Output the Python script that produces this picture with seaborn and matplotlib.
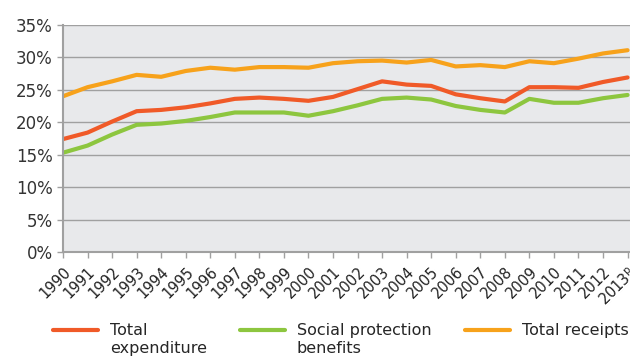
import seaborn as sns
import matplotlib.pyplot as plt
import numpy as np
import pandas as pd
from matplotlib.legend_handler import HandlerLine2D

# values, % of GDP
years = list(range(1990, 2014))
year_labels = [str(y) for y in years[:-1]] + ["2013$^{\\mathrm{p}}$"]

expenditure = [17.4, 18.4, 20.1, 21.7, 21.9, 22.3, 22.9, 23.6, 23.8, 23.6, 23.3, 23.9,
               25.1, 26.3, 25.8, 25.6, 24.3, 23.7, 23.2, 25.4, 25.4, 25.3, 26.2, 26.9]
social = [15.3, 16.4, 18.1, 19.6, 19.8, 20.2, 20.8, 21.5, 21.5, 21.5, 21.0, 21.7,
          22.6, 23.6, 23.8, 23.5, 22.5, 21.9, 21.5, 23.6, 23.0, 23.0, 23.7, 24.2]
receipts = [24.0, 25.4, 26.3, 27.3, 27.0, 27.9, 28.4, 28.1, 28.5, 28.5, 28.4, 29.1,
            29.4, 29.5, 29.2, 29.6, 28.6, 28.8, 28.5, 29.4, 29.1, 29.8, 30.6, 31.1]

# trailing newline keeps all three labels two lines tall
series = ["Total\nexpenditure", "Social protection\nbenefits", "Total receipts\n"]
colors = ["#f05a28", "#8dc63f", "#f7a21b"]

df = pd.DataFrame({
    "idx": list(range(len(years))) * 3,
    "value": expenditure + social + receipts,
    "series": [series[0]] * 24 + [series[1]] * 24 + [series[2]] * 24,
})

sns.set_style("ticks", {"axes.facecolor": "#e8e9eb", "axes.edgecolor": "#a0a0a0"})
plt.rcParams["font.family"] = ["DejaVu Sans"]

fig = plt.figure(figsize=(6.3, 3.61), dpi=100)
ax = fig.add_axes([0.1, 0.302, 0.9, 0.629])

sns.lineplot(data=df, x="idx", y="value", hue="series", palette=colors,
             linewidth=3, ax=ax, legend=True)

ax.set_xlim(0, 23.1)
ax.set_ylim(0, 35)
ax.set_yticks(range(0, 36, 5))
ax.set_yticklabels([f"{v}%" for v in range(0, 36, 5)], fontsize=12, color="#333333")
ax.set_xticks(range(len(years)))
ax.set_xticklabels(year_labels, rotation=45, ha="right", rotation_mode="anchor",
                   fontsize=10.5, color="#222222")
ax.tick_params(axis="both", color="#a0a0a0", length=4, width=1)
ax.tick_params(axis="x", pad=5)
ax.yaxis.grid(True, color="#a0a0a0", linewidth=1.0)
ax.set_axisbelow(True)
for s in ["top", "right"]:
    ax.spines[s].set_visible(False)
ax.spines["left"].set_linewidth(1.5)
ax.spines["bottom"].set_linewidth(1.5)
ax.set_xlabel("")
ax.set_ylabel("")


# legend line sits beside the first line of a two-line label
class TopLine(HandlerLine2D):
    def create_artists(self, legend, orig_handle, xdescent, ydescent, width, height,
                       fontsize, trans):
        arts = super().create_artists(legend, orig_handle, xdescent, ydescent, width,
                                      height, fontsize, trans)
        for a in arts:
            a.set_ydata(np.asarray(a.get_ydata()) + fontsize * 0.63)
        return arts


handles, labels = ax.get_legend_handles_labels()
ax.get_legend().remove()
fig.legend(handles, labels, loc="upper left", bbox_to_anchor=(53 / 630, 0.104),
           bbox_transform=fig.transFigure, ncol=3, frameon=False, fontsize=11.5,
           handlelength=2.8, handletextpad=0.75, columnspacing=2.1,
           borderpad=0, borderaxespad=0,
           handler_map={h: TopLine() for h in handles})

fig.savefig("out.png", dpi=100)
